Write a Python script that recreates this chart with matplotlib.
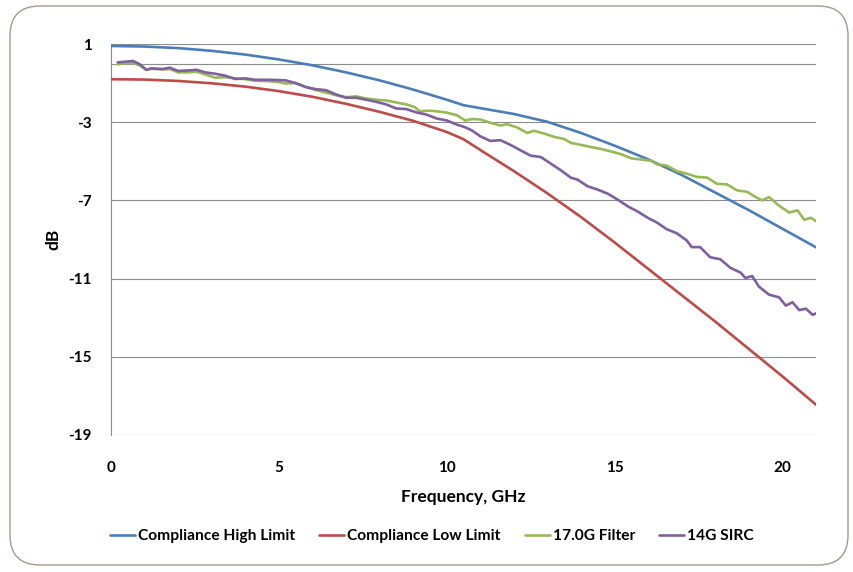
import numpy as np
import matplotlib
matplotlib.use("Agg")
import matplotlib.pyplot as plt
from matplotlib.patches import FancyBboxPatch

# ---------------- data ----------------
high_f = [0, 1, 2, 3, 4, 5, 6, 7, 8, 9, 10, 10.5, 11, 12, 13, 14, 15, 16, 17, 18, 19, 20, 21]
high_v = [0.90, 0.87, 0.79, 0.65, 0.46, 0.21, -0.09, -0.45, -0.86, -1.33, -1.85, -2.13,
          -2.28, -2.58, -2.98, -3.55, -4.20, -4.90, -5.70, -6.60, -7.50, -8.45, -9.40]

low_f = [0, 1, 2, 3, 4, 5, 6, 7, 8, 9, 10, 10.5, 11, 12, 13, 14, 15, 16, 17, 18, 19, 20, 21]
low_v = [-0.80, -0.82, -0.89, -1.01, -1.18, -1.41, -1.70, -2.06, -2.47, -2.93, -3.50, -3.87,
         -4.42, -5.50, -6.64, -7.85, -9.15, -10.50, -11.85, -13.20, -14.60, -16.00, -17.45]

filt_f = [0.2, 0.45, 0.66, 0.86, 1.05, 1.2, 1.55, 1.75, 2.0, 2.3, 2.55, 2.8, 3.1, 3.4, 3.7,
          4.0, 4.3, 4.7, 5.0, 5.2, 5.5, 5.8, 6.1, 6.4, 6.7, 7.0, 7.3, 7.6, 7.9, 8.2, 8.5,
          8.8, 9.05, 9.2, 9.45, 9.7, 10.0, 10.3, 10.55, 10.75, 11.0, 11.3, 11.6, 11.8, 12.1,
          12.4, 12.6, 12.9, 13.2, 13.5, 13.7, 14.0, 14.3, 14.6, 14.9, 15.2, 15.5, 15.8, 16.1,
          16.25, 16.55, 16.85, 17.15, 17.45, 17.75, 18.05, 18.35, 18.65, 18.95, 19.2, 19.4,
          19.6, 19.9, 20.2, 20.45, 20.65, 20.85, 21.0]
filt_v = [-0.04, 0.02, 0.03, -0.10, -0.32, -0.27, -0.30, -0.28, -0.45, -0.45, -0.42, -0.55,
          -0.72, -0.70, -0.75, -0.80, -0.88, -0.90, -0.95, -1.02, -1.00, -1.20, -1.36, -1.48,
          -1.62, -1.72, -1.68, -1.79, -1.85, -1.89, -1.99, -2.09, -2.23, -2.44, -2.41, -2.44,
          -2.51, -2.64, -2.91, -2.84, -2.86, -3.03, -3.17, -3.10, -3.27, -3.55, -3.44, -3.58,
          -3.75, -3.86, -4.06, -4.16, -4.27, -4.37, -4.50, -4.64, -4.85, -4.91, -4.98, -5.15,
          -5.22, -5.50, -5.63, -5.80, -5.83, -6.15, -6.18, -6.49, -6.56, -6.83, -7.00, -6.83,
          -7.27, -7.62, -7.51, -7.99, -7.89, -8.06]

sirc_f = [0.2, 0.45, 0.66, 0.86, 1.05, 1.2, 1.55, 1.75, 2.0, 2.3, 2.55, 2.8, 3.1, 3.4, 3.7,
          4.0, 4.3, 4.7, 5.2, 5.5, 5.8, 6.1, 6.4, 6.7, 7.0, 7.3, 7.6, 7.9, 8.2, 8.5, 8.8,
          9.1, 9.4, 9.7, 10.0, 10.3, 10.55, 10.75, 11.0, 11.3, 11.6, 11.9, 12.2, 12.5, 12.8,
          13.1, 13.4, 13.7, 13.9, 14.2, 14.5, 14.8, 15.1, 15.4, 15.7, 16.0, 16.25, 16.55,
          16.85, 17.15, 17.3, 17.55, 17.85, 18.15, 18.45, 18.75, 18.9, 19.1, 19.3, 19.6,
          19.9, 20.1, 20.3, 20.5, 20.7, 20.9, 21.0]
sirc_v = [0.06, 0.10, 0.13, -0.04, -0.32, -0.25, -0.28, -0.21, -0.38, -0.35, -0.32, -0.45,
          -0.52, -0.62, -0.79, -0.76, -0.83, -0.83, -0.86, -1.00, -1.20, -1.31, -1.36, -1.58,
          -1.75, -1.75, -1.85, -1.96, -2.09, -2.30, -2.33, -2.50, -2.61, -2.81, -2.91, -3.12,
          -3.26, -3.42, -3.72, -3.96, -3.92, -4.16, -4.44, -4.71, -4.78, -5.12, -5.46, -5.84,
          -5.94, -6.28, -6.45, -6.66, -6.97, -7.31, -7.58, -7.90, -8.12, -8.47, -8.68, -9.05,
          -9.39, -9.39, -9.91, -10.01, -10.45, -10.69, -10.97, -10.87, -11.41, -11.82, -11.96,
          -12.38, -12.21, -12.61, -12.54, -12.85, -12.78]

series_names = ["Compliance High Limit", "Compliance Low Limit", "17.0G Filter", "14G SIRC"]
y_ticks = [1, -3, -7, -11, -15, -19]
x_ticks = [0, 5, 10, 15, 20]

# ---------------- figure ----------------
FONT = ["Lato", "DejaVu Sans"]
plt.rcParams["font.family"] = FONT

fig = plt.figure(figsize=(8.54, 5.72), dpi=100)

# rounded outer frame
frame = FancyBboxPatch((10 / 854, 7 / 572), (848 - 10) / 854, (566 - 7) / 572,
                       boxstyle="round,pad=0,rounding_size=0.035",
                       transform=fig.transFigure, facecolor="none",
                       edgecolor="#a89888", linewidth=1.0, zorder=-5,
                       mutation_aspect=854 / 572)
fig.patches.append(frame)

ax = fig.add_axes([111 / 854, 1 - 435 / 572, (816 - 111) / 854, (435 - 44) / 572])
ax.set_facecolor("none")

colors = ["#4A7EBB", "#BE4B48", "#98B954", "#7D60A0"]
data = [(high_f, high_v), (low_f, low_v), (filt_f, filt_v), (sirc_f, sirc_v)]
for (fx, fy), c, name in zip(data, colors, series_names):
    ax.plot(fx, fy, color=c, linewidth=1.9, label=name, solid_capstyle="round",
            solid_joinstyle="round", zorder=3)

ax.set_xlim(0, 21)
ax.set_ylim(-19, 1)
ax.set_yticks(y_ticks)
ax.set_xticks(x_ticks)
ax.set_yticklabels([str(t) for t in y_ticks], fontweight="bold", fontsize=11)
ax.set_xticklabels([str(t) for t in x_ticks], fontweight="bold", fontsize=11)
ax.tick_params(axis="both", length=0)
ax.tick_params(axis="y", pad=14)
ax.tick_params(axis="x", pad=19)

ax.grid(axis="y", color="#8c8c8c", linewidth=0.8, zorder=1)
ax.grid(axis="x", visible=False)
ax.axhline(0, color="#8c8c8c", linewidth=0.8, zorder=1)
for s in ["top", "right", "bottom"]:
    ax.spines[s].set_visible(False)
ax.spines["left"].set_color("#8c8c8c")
ax.spines["left"].set_linewidth(0.8)

ax.set_xlabel("Frequency, GHz", fontweight="bold", fontsize=12.5, labelpad=10)
ax.set_ylabel("dB", fontweight="bold", fontsize=12.5, labelpad=5)

leg = fig.legend(loc="center", bbox_to_anchor=(432 / 854, 1 - 536 / 572), ncol=4,
                 frameon=False, handlelength=1.6, handletextpad=0.2, columnspacing=1.55,
                 prop={"family": FONT, "weight": "bold", "size": 11.2})

fig.savefig("out.png", dpi=100)
